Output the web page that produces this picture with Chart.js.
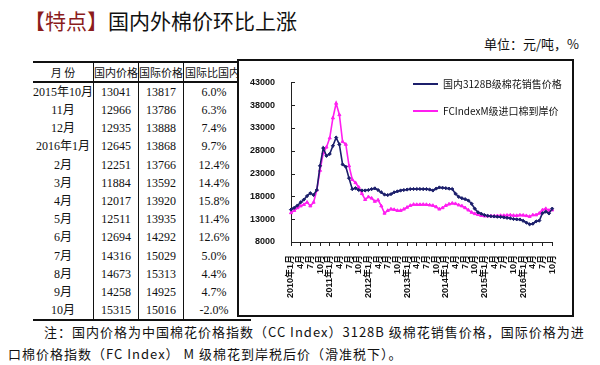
<!DOCTYPE html>
<html>
<head>
<meta charset="utf-8">
<script src="https://cdn.jsdelivr.net/npm/chart.js@4.4.1/dist/chart.umd.min.js"></script>
<style>
    html, body { margin: 0; padding: 0; background: #fff; }
    body { width: 600px; height: 365px; position: relative; overflow: hidden;
           font-family: "Noto Sans CJK SC", sans-serif; color: #111; }
    .title { position: absolute; left: 24px; top: 5px; font-size: 21px; line-height: 30px; white-space: nowrap; }
    .title span { color: #8b1c1c; }
    .unit { position: absolute; left: 484px; top: 35px; font-size: 13px; line-height: 18px; white-space: nowrap; }
    #tbl { position: absolute; left: 33px; top: 61px; border-collapse: collapse; table-layout: fixed;
           font-family: "Liberation Serif", "Noto Sans CJK SC", serif; font-size: 12px; }
    #tbl th, #tbl td { padding: 0; text-align: center; white-space: nowrap; overflow: visible;
                       border-left: 1px solid #111; height: 18px; line-height: 18px; }
    #tbl tbody tr { height: 18.2px; }
    #tbl th:first-child, #tbl td:first-child { border-left: none; }
    #tbl thead tr { border-top: 2px solid #111; border-bottom: 2px solid #111; }
    #tbl th { font-family: "Noto Sans CJK SC", sans-serif; font-weight: normal; font-size: 11px; height: 18px; line-height: 18px; }
    #tbl th.last { text-align: left; padding-left: 1px; }
    #tbl tbody tr:last-child { border-bottom: 2px solid #111; }
    .box { position: absolute; left: 237px; top: 59px; width: 337px; height: 258px; box-sizing: border-box;
           border: 2px solid #111; background: #fff; z-index: 2; }
    .box canvas { position: absolute; left: 0; top: 0; }
    .lg { position: absolute; left: 174px; font-size: 10px; line-height: 14px; white-space: nowrap; }
    .lg i { display: inline-block; width: 25px; height: 0; border-top: 2px solid; vertical-align: middle; margin-right: 5px; position: relative; top: -1px; }
    .note { position: absolute; left: 8px; top: 321px; width: 592px; font-size: 13px; line-height: 22px;
            letter-spacing: 1px; white-space: nowrap; }
</style>
</head>
<body>
<div class="title"><span>【特点】</span>国内外棉价环比上涨</div>
<div class="unit">单位：元/吨，%</div>
<table id="tbl">
    <colgroup><col style="width:55px"><col style="width:44px"><col style="width:45px"><col style="width:60px"></colgroup>
    <thead><tr><th>月 份</th><th>国内价格</th><th>国际价格</th><th class="last">国际比国内高</th></tr></thead>
    <tbody id="tbody"></tbody>
</table>
<div class="box">
    <canvas id="chart" width="333" height="254"></canvas>
    <div class="lg" style="top:16px"><i style="border-color:#1c1f6b"></i>国内3128B级棉花销售价格</div>
    <div class="lg" style="top:43px"><i style="border-color:#ff1ef0"></i>FCIndexM级进口棉到岸价</div>
</div>
<div class="note"><span style="padding-left:36px"></span>注：国内价格为中国棉花价格指数（CC Index）3128B 级棉花销售价格，国际价格为进<br>口棉价格指数（FC Index） M 级棉花到岸税后价（滑准税下）。</div>

<script>
(function () {
    'use strict';

    // ── Table data ───────────────────────────────────────────────────────────
    var tableMonths   = ['2015年10月', '11月', '12月', '2016年1月', '2月', '3月', '4月', '5月', '6月', '7月', '8月', '9月', '10月'];
    var tableDomestic = [13041, 12966, 12935, 12645, 12251, 11884, 12017, 12511, 12694, 14316, 14673, 14258, 15315];
    var tableIntl     = [13817, 13786, 13888, 13868, 13766, 13592, 13920, 13935, 14292, 15029, 15313, 14925, 15016];
    var tableDiff     = ['6.0%', '6.3%', '7.4%', '9.7%', '12.4%', '14.4%', '15.8%', '11.4%', '12.6%', '5.0%', '4.4%', '4.7%', '-2.0%'];

    // ── Chart data (monthly, 2010-01 .. 2016-10) ─────────────────────────────
    var years = [2010, 2011, 2012, 2013, 2014, 2015, 2016];
    var tickLabels = [
        '2010年1月', '4月', '7月', '10月', '2011年1月', '4月', '7月', '10月',
        '2012年1月', '4月', '7月', '10月', '2013年1月', '4月', '7月', '10月',
        '2014年1月', '4月', '7月', '10月', '2015年1月', '4月', '7月', '10月',
        '2016年1月', '4月', '7月', '10月'
    ];
    var domestic = [
        15100, 15500, 16000, 16700, 17300, 18100, 18700, 18300, 19400, 24700, 28600, 26900,
        27300, 29100, 30900, 29400, 25000, 24500, 22000, 19600, 19800, 19400, 19300, 19300,
        19400, 19600, 19760, 19400, 18900, 18400, 18300, 18500, 18900, 19100, 19300, 19400,
        19500, 19600, 19620, 19620, 19620, 19600, 19600, 19500, 19300, 19700, 19960, 19900,
        19800, 19700, 19620, 18600, 17900, 17600, 17400, 17100, 16400, 15300, 14500, 14200,
        13900, 13750, 13650, 13600, 13550, 13500, 13400, 13300, 13200, 13041, 12966, 12935,
        12645, 12251, 11884, 12017, 12511, 12694, 14316, 14673, 14258, 15315
    ];
    var imported = [
        14400, 14900, 15500, 15900, 16200, 16700, 15900, 16700, 19400, 23700, 27500, 28800,
        30800, 35200, 38400, 35900, 30000, 29400, 24700, 21700, 21000, 20000, 18600, 17300,
        17900, 17600, 16900, 17200, 15900, 14300, 14900, 15200, 15100, 14900, 14900, 15200,
        15600, 16000, 16230, 16200, 16200, 16230, 16200, 16100, 16000, 15700, 15200, 15500,
        16000, 16300, 16500, 16400, 16100, 15900, 15500, 15000, 14500, 14200, 14000, 13800,
        13700, 13700, 13700, 13700, 13750, 13800, 13800, 13850, 13900, 13817, 13786, 13888,
        13868, 13766, 13592, 13920, 13935, 14292, 15029, 15313, 14925, 15016
    ];

    // ── Table ────────────────────────────────────────────────────────────────
    var tbody = document.getElementById('tbody');
    tableMonths.forEach(function (m, i) {
        var tr = document.createElement('tr');
        [m, tableDomestic[i], tableIntl[i], tableDiff[i]].forEach(function (v, j) {
            var td = document.createElement('td');
            td.textContent = v;
            if (j === 3) { td.style.paddingRight = '7px'; }
            tr.appendChild(td);
        });
        tbody.appendChild(tr);
    });

    // ── Categories ───────────────────────────────────────────────────────────
    var months = [];
    years.forEach(function (y) {
        for (var m = 1; m <= 12; m++) {
            if (months.length < domestic.length) { months.push(y + '-' + m); }
        }
    });

    // small tick marks pointing into the plot on the y axis
    var innerTicks = {
        id: 'innerTicks',
        afterDraw: function (chart) {
            var ctx = chart.ctx, ys = chart.scales.y, left = chart.chartArea.left;
            ctx.save();
            ctx.strokeStyle = '#222';
            ctx.lineWidth = 1;
            ys.ticks.forEach(function (t) {
                var py = Math.round(ys.getPixelForValue(t.value)) + 0.5;
                ctx.beginPath();
                ctx.moveTo(left, py);
                ctx.lineTo(left + 4, py);
                ctx.stroke();
            });
            ctx.restore();
        }
    };

    var tickFont = { family: "'Liberation Sans', 'Noto Sans CJK SC', sans-serif", size: 9, weight: 'bold' };

    new Chart(document.getElementById('chart').getContext('2d'), {
        type: 'line',
        data: {
            labels: months,
            datasets: [
                {
                    label: '国内3128B级棉花销售价格',
                    data: domestic,
                    borderColor: '#1c1f6b',
                    backgroundColor: '#1c1f6b',
                    borderWidth: 1.6,
                    pointStyle: 'rectRot',
                    pointRadius: 1.6,
                    pointBorderWidth: 1,
                    tension: 0
                },
                {
                    label: 'FCIndexM级进口棉到岸价',
                    data: imported,
                    borderColor: '#ff1ef0',
                    backgroundColor: '#ff1ef0',
                    borderWidth: 1.6,
                    pointStyle: 'triangle',
                    pointRadius: 1.8,
                    pointBorderWidth: 1,
                    tension: 0
                }
            ]
        },
        options: {
            responsive: false,
            animation: false,
            layout: { padding: { left: 0, right: 5, top: 9, bottom: 0 } },
            plugins: { legend: { display: false }, tooltip: { enabled: false } },
            scales: {
                x: {
                    offset: false,
                    grid: { drawOnChartArea: false, tickLength: 4, color: '#222' },
                    border: { color: '#222', width: 1 },
                    ticks: {
                        autoSkip: false, minRotation: 90, maxRotation: 90, padding: 9,
                        color: '#111', font: tickFont,
                        callback: function (v, i) { return i % 3 === 0 ? tickLabels[i / 3] : null; }
                    },
                    afterFit: function (s) { s.height = 73; }
                },
                y: {
                    min: 8000, max: 43000,
                    grid: { drawOnChartArea: false, drawTicks: false },
                    border: { color: '#222', width: 1 },
                    ticks: {
                        stepSize: 5000, padding: 16, color: '#111', font: tickFont,
                        callback: function (v) { return String(v); }
                    },
                    afterFit: function (s) { s.width = 52; }
                }
            }
        },
        plugins: [innerTicks]
    });

}());
</script>
</body>
</html>
